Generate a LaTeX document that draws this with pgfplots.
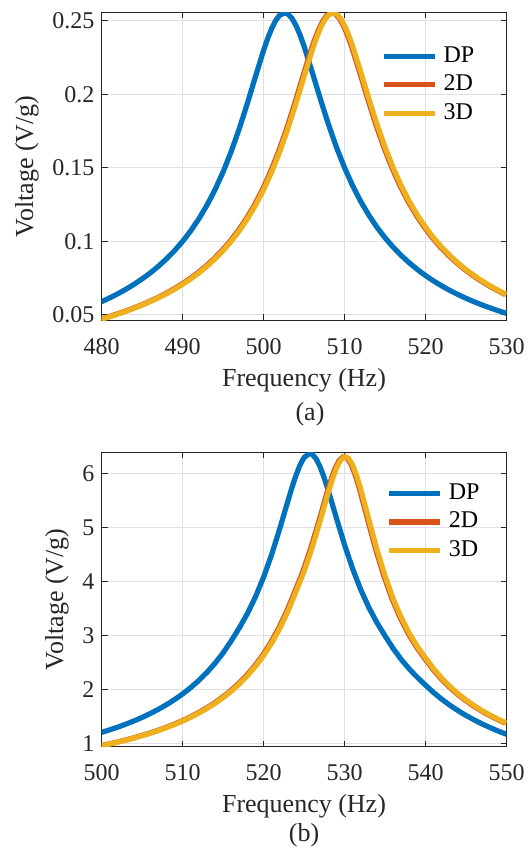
\documentclass[border=0pt]{standalone}
\usepackage{fontspec}
\setmainfont{Liberation Serif}
\usepackage{pgfplots}
\usepackage{pgfplotstable}
\pgfplotsset{compat=1.18}

\definecolor{mblue}{rgb}{0,0.447,0.741}
\definecolor{morange}{rgb}{0.850,0.325,0.098}
\definecolor{myellow}{rgb}{0.929,0.694,0.125}
\definecolor{axgray}{rgb}{0.15,0.15,0.15}

% (a) DP response
\pgfplotstableread{
f v
480 0.05886
481 0.06143
482 0.06422
483 0.06728
484 0.07063
485 0.07431
486 0.07837
487 0.08288
488 0.08791
489 0.09353
490 0.09986
491 0.10701
492 0.11512
493 0.12437
494 0.13496
495 0.14707
496 0.16089
497 0.17650
498 0.19373
499 0.21198
500 0.22980
500.5 0.23783
501 0.24479
501.5 0.25026
502 0.25391
502.6 0.25550
503 0.25478
503.5 0.25190
504 0.24707
504.5 0.24061
505 0.23293
506 0.21545
507 0.19724
508 0.17989
509 0.16412
510 0.15014
511 0.13787
512 0.12716
513 0.11781
514 0.10961
515 0.10239
516 0.09602
517 0.09035
518 0.08530
519 0.08076
520 0.07667
521 0.07298
522 0.06962
523 0.06655
524 0.06375
525 0.06117
526 0.05880
527 0.05661
528 0.05458
529 0.05269
530 0.05093
}\topDP

% (a) 2D (g) and 3D (f) responses
\pgfplotstableread{
f g v
480 479.85 0.04698
481 480.85 0.04862
482 481.85 0.05038
483 482.85 0.05227
484 483.85 0.05430
485 484.85 0.05649
486 485.85 0.05887
487 486.85 0.06143
488 487.85 0.06422
489 488.85 0.06728
490 489.85 0.07063
491 490.85 0.07431
492 491.85 0.07837
493 492.85 0.08288
494 493.85 0.08791
495 494.85 0.09353
496 495.85 0.09986
497 496.85 0.10701
498 497.85 0.11512
499 498.85 0.12437
500 499.85 0.13496
501 500.85 0.14707
502 501.85 0.16089
503 502.85 0.17650
504 503.85 0.19373
505 504.85 0.21198
506 505.85 0.22980
506.5 506.35 0.23783
507 506.85 0.24479
507.5 507.35 0.25026
508 507.85 0.25391
508.6 508.45 0.25550
509 508.85 0.25478
509.5 509.35 0.25190
510 509.85 0.24707
510.5 510.35 0.24061
511 510.85 0.23293
512 511.85 0.21545
513 512.85 0.19724
514 513.85 0.17989
515 514.85 0.16412
516 515.85 0.15014
517 516.85 0.13787
518 517.85 0.12716
519 518.85 0.11781
520 519.85 0.10961
521 520.85 0.10239
522 521.85 0.09602
523 522.85 0.09035
524 523.85 0.08530
525 524.85 0.08076
526 525.85 0.07667
527 526.85 0.07298
528 527.85 0.06962
529 528.85 0.06655
530 529.85 0.06375
}\topD

% (b) DP response
\pgfplotstableread{
f v
500 1.2048
501 1.2517
502 1.3023
503 1.3572
504 1.4167
505 1.4815
506 1.5524
507 1.6300
508 1.7156
509 1.8103
510 1.9155
511 2.0329
512 2.1646
513 2.3133
514 2.4820
515 2.6746
516 2.8955
517 3.1366
518 3.4010
519 3.7108
520 4.0739
521 4.4956
522 4.9730
523 5.4818
523.5 5.7305
524 5.9593
524.5 6.1522
525 6.2923
525.7 6.3700
526 6.3553
526.5 6.2694
527 6.1174
527.5 5.9158
528 5.6820
529 5.1751
530 4.6806
531 4.2354
532 3.8494
533 3.5190
534 3.2373
535 2.9929
536 2.7592
537 2.5560
538 2.3782
539 2.2219
540 2.0800
541 1.9422
542 1.8194
543 1.7090
544 1.6093
545 1.5187
546 1.4362
547 1.3609
548 1.2917
549 1.2281
550 1.1694
}\botDP

% (b) 2D (g) and 3D (f) responses
\pgfplotstableread{
f g v
500 499.85 0.9573
501 500.85 0.9894
502 501.85 1.0237
503 502.85 1.0604
504 503.85 1.0998
505 504.85 1.1422
506 505.85 1.1880
507 506.85 1.2375
508 507.85 1.2912
509 508.85 1.3496
510 509.85 1.4135
511 510.85 1.4835
512 511.85 1.5606
513 512.85 1.6458
514 513.85 1.7404
515 514.85 1.8461
516 515.85 1.9647
517 516.85 2.0986
518 517.85 2.2508
519 518.85 2.4247
520 519.85 2.6248
521 520.85 2.8565
522 521.85 3.1264
523 522.85 3.4415
524 523.85 3.8044
525 524.85 4.1801
526 525.85 4.6213
527 526.85 5.1225
528 527.85 5.6466
528.5 528.35 5.8895
529 528.85 6.0955
529.5 529.35 6.2422
530 529.85 6.3080
530.1 529.95 6.3100
530.5 530.35 6.2782
531 530.85 6.1557
531.5 531.35 5.9590
532 531.85 5.7113
533 532.85 5.1495
534 533.85 4.5956
535 534.85 4.1036
536 535.85 3.6852
537 536.85 3.3346
538 537.85 3.0409
539 538.85 2.7939
540 539.85 2.5846
541 540.85 2.3850
542 541.85 2.2101
543 542.85 2.0577
544 543.85 1.9239
545 544.85 1.8057
546 545.85 1.7007
547 546.85 1.6067
548 547.85 1.5223
549 548.85 1.4461
550 549.85 1.3770
}\botD

\pgfplotsset{
  resp/.style={
    scale only axis,
    width=202.5pt,
    anchor=north west,
    axis line style={axgray, line width=0.5pt},
    tick style={axgray, line width=0.5pt},
    major tick length=3pt,
    tick align=inside,
    grid=major,
    major grid style={black!12, line width=0.5pt},
    enlargelimits=false,
    ticklabel style={font=\fontsize{12}{14}\selectfont, text=axgray},
    xticklabel style={yshift=-5.5pt},
    label style={font=\fontsize{13}{15}\selectfont, text=axgray},
    /pgf/number format/assume math mode=true,
    scaled ticks=false,
    xlabel={Frequency (Hz)},
    ylabel={Voltage (V/g)},
    legend cell align=left,
    legend image code/.code={\draw[##1] (0pt,0pt) -- (25.5pt,0pt);},
    legend style={draw=none, fill=none, anchor=north west,
      font=\fontsize{12}{14}\selectfont, inner sep=0pt, row sep=0pt,
      column sep=3pt,
      nodes={inner sep=0pt, text height=10pt, text depth=4.25pt}},
    every axis plot/.append style={line width=2.6pt},
  }
}

\begin{document}
\begin{tikzpicture}
\useasboundingbox (0,0) rectangle (265.5pt,-425pt);

\begin{axis}[resp,
  at={(50.75pt,-6.15pt)},
  height=154pt,
  xmin=480, xmax=530, ymin=0.0462, ymax=0.2559,
  xtick={480,490,...,530},
  ytick={0.05,0.1,0.15,0.2,0.25},
  yticklabel style={/pgf/number format/fixed, /pgf/number format/precision=2},
  legend style={at={(0.69,0.9045)}},
]
\addplot[mblue] table[x=f, y=v] {\topDP};
\addplot[morange] table[x=g, y=v] {\topD};
\addplot[myellow] table[x=f, y=v] {\topD};
\legend{DP, 2D, 3D}
\end{axis}
\node[font=\fontsize{13}{15}\selectfont, text=axgray] at (155pt,-207pt) {(a)};

\begin{axis}[resp,
  at={(50.75pt,-226.15pt)},
  height=147.2pt,
  xmin=500, xmax=550, ymin=0.94, ymax=6.39,
  xtick={500,510,...,550},
  ytick={1,2,...,6},
  legend style={at={(0.703,0.910)}},
]
\addplot[mblue] table[x=f, y=v] {\botDP};
\addplot[morange] table[x=g, y=v] {\botD};
\addplot[myellow] table[x=f, y=v] {\botD};
\legend{DP, 2D, 3D}
\end{axis}
\node[font=\fontsize{13}{15}\selectfont, text=axgray] at (152pt,-417.5pt) {(b)};
\end{tikzpicture}
\end{document}
